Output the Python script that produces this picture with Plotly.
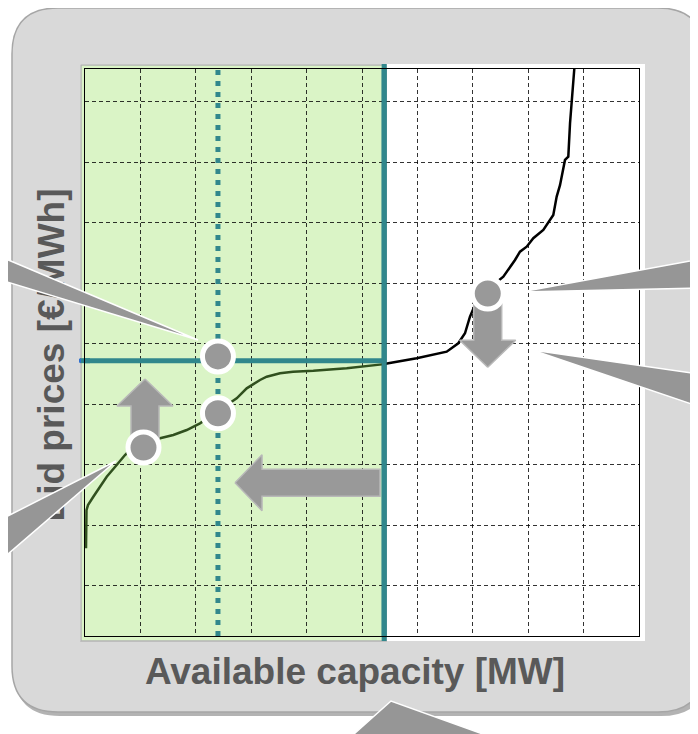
import plotly.graph_objects as go

# ---------------- data ----------------
curve_x = [0.018, 0.027, 0.054, 0.090, 0.150, 0.271, 0.392, 0.572, 0.722, 0.866,
           1.083, 1.354, 1.594, 1.836, 2.076, 2.401, 2.738, 2.919, 3.159, 3.280,
           3.520, 3.755, 4.121, 4.724, 5.325, 5.400, 5.475, 5.987, 6.529, 6.738,
           6.859, 6.949, 7.040, 7.256, 7.551, 7.762, 7.852, 7.973, 8.092, 8.273,
           8.453, 8.514, 8.574, 8.664, 8.724, 8.755, 8.803, 8.832]
curve_y = [0.622, 1.251, 1.334, 1.389, 1.471, 1.637, 1.802, 1.995, 2.161, 2.293,
           2.376, 2.437, 2.491, 2.574, 2.685, 2.888, 3.098, 3.263, 3.401, 3.455,
           3.511, 3.538, 3.554, 3.594, 3.649, 3.663, 3.677, 3.759, 3.868, 4.007,
           4.173, 4.447, 4.640, 4.888, 5.108, 5.384, 5.522, 5.604, 5.743, 5.880,
           6.128, 6.431, 6.621, 7.038, 7.092, 7.644, 8.140, 8.540]

available_capacity = 5.4      # green region / solid teal vertical
clearing_price = 3.72          # solid teal horizontal
reduced_capacity = 2.4         # dotted teal vertical

point_x = [2.40, 2.40, 1.056, 7.27]
point_y = [3.79, 2.85, 2.285, 4.83]

# arrows: tip (data), direction, length in px
arrow_tip_x = [1.083, 7.269, 2.708]
arrow_tip_y = [3.416, 3.611, 1.703]
arrow_dir = ["up", "down", "left"]
arrow_len = [61, 74, 145]

x_title = "Available capacity [MW]"
y_title = "Bid prices [€/MWh]"

X_RANGE = [0, 10]
Y_RANGE = [-0.83, 8.54]

# ---------------- geometry helpers ----------------
OFF = 8                       # page body margin
SW, SH = 698, 734             # screen size
W, H = SW - OFF, SH - OFF     # figure size
L, R, T, B = 85 - OFF, SW - 639, 69 - OFF, SH - 636   # margins (figure coords)
PW, PH = W - L - R, H - T - B

def x2px(x):
    return OFF + L + (x - X_RANGE[0]) / (X_RANGE[1] - X_RANGE[0]) * PW

def y2px(y):
    return OFF + T + (Y_RANGE[1] - y) / (Y_RANGE[1] - Y_RANGE[0]) * PH

def px2x(px):
    return X_RANGE[0] + (px - OFF - L) / PW * (X_RANGE[1] - X_RANGE[0])

def px2y(py):
    return Y_RANGE[1] - (py - OFF - T) / PH * (Y_RANGE[1] - Y_RANGE[0])

def paper_x(px):
    return (px - OFF - L) / PW

def paper_y(py):
    return (H - B - (py - OFF)) / PH

def pp(px, py):
    return "%.5f,%.5f" % (paper_x(px), paper_y(py))

def poly_path(pts, close=True):
    return "M " + " L ".join(pp(*p) for p in pts) + (" Z" if close else "")

def rrect_path(x0, y0, x1, y1, r):
    return ("M " + pp(x0 + r, y0) + " L " + pp(x1 - r, y0) + " Q " + pp(x1, y0) + " " + pp(x1, y0 + r)
            + " L " + pp(x1, y1 - r) + " Q " + pp(x1, y1) + " " + pp(x1 - r, y1)
            + " L " + pp(x0 + r, y1) + " Q " + pp(x0, y1) + " " + pp(x0, y1 - r)
            + " L " + pp(x0, y0 + r) + " Q " + pp(x0, y0) + " " + pp(x0 + r, y0) + " Z")

def arrow_poly(tx, ty, direction, length, head=27, hw=28, sw=14):
    px, py = x2px(tx), y2px(ty)
    local = [(0, 0), (head, hw), (head, sw), (length, sw), (length, -sw), (head, -sw), (head, -hw), (0, 0)]
    out = []
    for a, c in local:
        if direction == "up":
            X, Y = px + c, py + a
        elif direction == "down":
            X, Y = px + c, py - a
        else:
            X, Y = px + a, py + c
        out.append((px2x(X), px2y(Y)))
    return [p[0] for p in out], [p[1] for p in out]

TEAL = "#31878c"
GRAY = "#999999"

fig = go.Figure()

bx = [x for x in curve_x if x >= available_capacity]
by = [y for x, y in zip(curve_x, curve_y) if x >= available_capacity]
gx = [x for x in curve_x if x <= available_capacity]
gy = [y for x, y in zip(curve_x, curve_y) if x <= available_capacity]
fig.add_trace(go.Scatter(x=bx, y=by, mode="lines", line=dict(color="#000000", width=2.5), hoverinfo="skip"))
fig.add_trace(go.Scatter(x=gx, y=gy, mode="lines", line=dict(color="#30501e", width=2.5), hoverinfo="skip"))

fig.add_trace(go.Scatter(x=[X_RANGE[0], available_capacity], y=[clearing_price, clearing_price], mode="lines",
                         line=dict(color=TEAL, width=5), hoverinfo="skip"))
fig.add_trace(go.Scatter(x=[available_capacity, available_capacity], y=Y_RANGE, mode="lines",
                         line=dict(color=TEAL, width=5), hoverinfo="skip"))
fig.add_trace(go.Scatter(x=[reduced_capacity, reduced_capacity], y=Y_RANGE, mode="lines",
                         line=dict(color=TEAL, width=5, dash="5px,6px"), hoverinfo="skip"))

for tx, ty, d, ln in zip(arrow_tip_x, arrow_tip_y, arrow_dir, arrow_len):
    ax, ay = arrow_poly(tx, ty, d, ln, sw=14 if d != "left" else 13.5)
    fig.add_trace(go.Scatter(x=ax, y=ay, mode="lines", fill="toself", fillcolor=GRAY,
                             line=dict(color="#b8b8b8", width=1.5), hoverinfo="skip"))

fig.add_trace(go.Scatter(x=point_x, y=point_y, mode="markers",
                         marker=dict(size=31, color=GRAY, line=dict(color="white", width=5)),
                         hoverinfo="skip", cliponaxis=False))

shapes = []
shapes.append(dict(type="path", xref="paper", yref="paper", layer="below",
                   path=rrect_path(14, 11, 707, 716, 46), fillcolor="#b3b3b3", line=dict(width=0)))
shapes.append(dict(type="path", xref="paper", yref="paper", layer="below",
                   path=rrect_path(12, 8, 704, 712, 46), fillcolor="#d9d9d9",
                   line=dict(color="#a6a6a6", width=1.5)))
shapes.append(dict(type="path", xref="paper", yref="paper", layer="below",
                   path=poly_path([(80, 64), (645, 64), (645, 641), (80, 641)]),
                   fillcolor="white", line=dict(width=0)))
vx = x2px(available_capacity)
shapes.append(dict(type="path", xref="paper", yref="paper", layer="below",
                   path=poly_path([(81, 65), (vx + 2, 65), (vx + 2, 641), (81, 641)]),
                   fillcolor="#daf4c6", line=dict(color="#b4b4b4", width=1.5)))
# teal line stubs that reach just outside the axes box
shapes.append(dict(type="path", xref="paper", yref="paper", layer="below",
                   path=poly_path([(vx, 64), (vx, 641)], close=False), line=dict(color=TEAL, width=5)))
hy = y2px(clearing_price)
shapes.append(dict(type="path", xref="paper", yref="paper", layer="below",
                   path=poly_path([(80, hy), (90, hy)], close=False), line=dict(color=TEAL, width=5)))
shapes.append(dict(type="path", xref="paper", yref="paper", layer="below",
                   path=poly_path([(79, hy), (81, hy)], close=False), line=dict(color="#2f6fce", width=4)))

shapes.append(dict(type="rect", xref="paper", yref="paper", layer="above",
                   x0=paper_x(20), x1=paper_x(74), y0=paper_y(520), y1=paper_y(190),
                   line=dict(width=0), fillcolor="rgba(0,0,0,0)",
                   label=dict(text="<b>" + y_title + "</b>", textangle=-90, textposition="middle center",
                              font=dict(family="Liberation Sans, Arial", size=37, color="#595959"))))
shapes.append(dict(type="rect", xref="paper", yref="paper", layer="above",
                   x0=paper_x(140), x1=paper_x(570), y0=paper_y(690), y1=paper_y(645),
                   line=dict(width=0), fillcolor="rgba(0,0,0,0)",
                   label=dict(text="<b>" + x_title + "</b>", textangle=0, textposition="middle center",
                              font=dict(family="Liberation Sans, Arial", size=37, color="#595959"))))

wedges = [
    [(-6, 254), (198, 340), (-6, 278)],
    [(-6, 523), (116, 461), (-6, 566)],
    [(706, 258), (521, 292), (706, 288)],
    [(706, 375), (532, 350), (706, 409)],
    [(345, 742), (391, 701), (505, 742)],
]
for wpts in wedges:
    shapes.append(dict(type="path", xref="paper", yref="paper", layer="above",
                       path=poly_path(wpts), fillcolor="#969696", line=dict(color="white", width=1.5)))

fig.update_layout(
    width=W, height=H, autosize=False,
    margin=dict(l=L, r=R, t=T, b=B, pad=0),
    paper_bgcolor="white", plot_bgcolor="rgba(0,0,0,0)",
    showlegend=False, shapes=shapes,
    xaxis=dict(range=X_RANGE, tick0=0, dtick=1, showgrid=True, gridcolor="rgba(0,0,0,0.8)",
               griddash="4px,3px", gridwidth=1, showticklabels=False, ticks="", zeroline=False,
               showline=True, mirror=True, linecolor="#000000", linewidth=1, fixedrange=True),
    yaxis=dict(range=Y_RANGE, tick0=0, dtick=1, showgrid=True, gridcolor="rgba(0,0,0,0.8)",
               griddash="4px,3px", gridwidth=1, showticklabels=False, ticks="", zeroline=False,
               showline=True, mirror=True, linecolor="#000000", linewidth=1, fixedrange=True),
)

fig.write_html("out.html", config={"displayModeBar": False})
